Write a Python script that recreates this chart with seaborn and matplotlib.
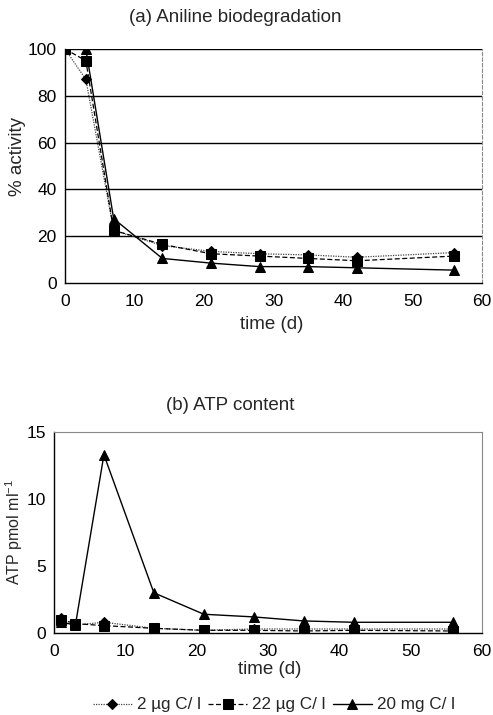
import matplotlib
matplotlib.use("Agg")
import matplotlib.pyplot as plt
import seaborn as sns
import pandas as pd

# Sampling days
days_a = [0, 3, 7, 14, 21, 28, 35, 42, 56]
days_b = [1, 3, 7, 14, 21, 28, 35, 42, 56]

series_names = ["2 µg C/ l", "22 µg C/ l", "20 mg C/ l"]

# (a) relative aniline degradation activity, %
act_2ug = [100, 87, 22.5, 16, 13.5, 12.5, 12, 11, 13]
act_22ug = [100, 95, 22.5, 16.5, 12.5, 11.5, 10.5, 9.5, 11.5]
act_20mg = [100, 100, 27.5, 10.5, 8.5, 7, 7, 6.5, 5.5]

# (b) ATP content, pmol/ml
atp_2ug = [1.1, 0.6, 0.8, 0.35, 0.2, 0.3, 0.3, 0.3, 0.3]
atp_22ug = [1.0, 0.7, 0.55, 0.35, 0.2, 0.2, 0.15, 0.2, 0.15]
atp_20mg = [0.8, 0.6, 13.3, 3.0, 1.4, 1.2, 0.9, 0.8, 0.8]

sns.set_theme(style="white")
plt.rcParams["font.family"] = ["Liberation Sans", "DejaVu Sans"]
plt.rcParams["font.size"] = 12
plt.rcParams["mathtext.fontset"] = "custom"
plt.rcParams["mathtext.rm"] = "Liberation Sans"

styles = [
    dict(marker="D", linestyle=(0, (1, 1)), color="#444444", markersize=5, lw=0.9),
    dict(marker="s", linestyle=(0, (4, 2)), color="black", markersize=6.5, lw=0.9),
    dict(marker="^", linestyle="-", color="black", markersize=7, lw=1.0),
]

fig = plt.figure(figsize=(4.93, 7.15), dpi=100)
W, H = 493, 715
ax_a = fig.add_axes([65 / W, 1 - 283 / H, (482 - 65) / W, (283 - 49) / H])
ax_b = fig.add_axes([54 / W, 1 - 633 / H, (482 - 54) / W, (633 - 432) / H])


def fig_text(x, y, s, **kw):
    fig.text(x / W, 1 - y / H, s, ha="center", va="center", **kw)


def draw(ax, days, values_list):
    for name, vals, st in zip(series_names, values_list, styles):
        df = pd.DataFrame({"day": days, "value": vals})
        sns.lineplot(data=df, x="day", y="value", ax=ax, color=st["color"],
                     marker=st["marker"], markersize=st["markersize"],
                     markeredgecolor="black", markerfacecolor="black",
                     linewidth=st["lw"], linestyle=st["linestyle"], label=name,
                     legend=False)
    ax.set_xlim(0, 60)
    ax.set_xticks(range(0, 61, 10))
    ax.set_xlabel("")
    ax.set_ylabel("")
    ax.tick_params(axis="both", direction="out", length=4, width=0.8,
                   colors="black", labelsize=12.5, pad=2)
    ax.tick_params(axis="x", pad=4)
    for side in ["left", "bottom"]:
        ax.spines[side].set_color("black")
        ax.spines[side].set_linewidth(1.0)


# Panel (a)
draw(ax_a, days_a, [act_2ug, act_22ug, act_20mg])
ax_a.set_ylim(0, 100)
ax_a.set_yticks(range(0, 101, 20))
for y in range(20, 101, 20):
    ax_a.axhline(y, color="black", lw=1.0, zorder=0)
ax_a.spines["top"].set_visible(False)
ax_a.spines["right"].set_color("#888888")
ax_a.spines["right"].set_linestyle((0, (3, 2)))
ax_a.spines["right"].set_linewidth(0.8)
fig_text(235, 18, "(a) Aniline biodegradation", fontsize=13.5)
fig_text(272, 324, "time (d)", fontsize=13.5)
fig_text(17, 156, "% activity", fontsize=13.5, rotation=90)

# Panel (b)
draw(ax_b, days_b, [atp_2ug, atp_22ug, atp_20mg])
ax_b.set_ylim(0, 15)
ax_b.set_yticks([0, 5, 10, 15])
for side in ["top", "right"]:
    ax_b.spines[side].set_color("#888888")
    ax_b.spines[side].set_linewidth(0.8)
fig_text(230, 406, "(b) ATP content", fontsize=13.5)
fig_text(270, 670, "time (d)", fontsize=13.5)
fig_text(14, 532, "ATP pmol ml$^{-1}$", fontsize=11.5, rotation=90)

handles, labels = ax_b.get_legend_handles_labels()
fig.legend(handles, labels, loc="center", bbox_to_anchor=(274 / W, 1 - 705 / H),
           ncol=3, frameon=False, fontsize=12.3, handlelength=2.3,
           handletextpad=0.3, columnspacing=0.4)

fig.savefig("out.png", dpi=100)
